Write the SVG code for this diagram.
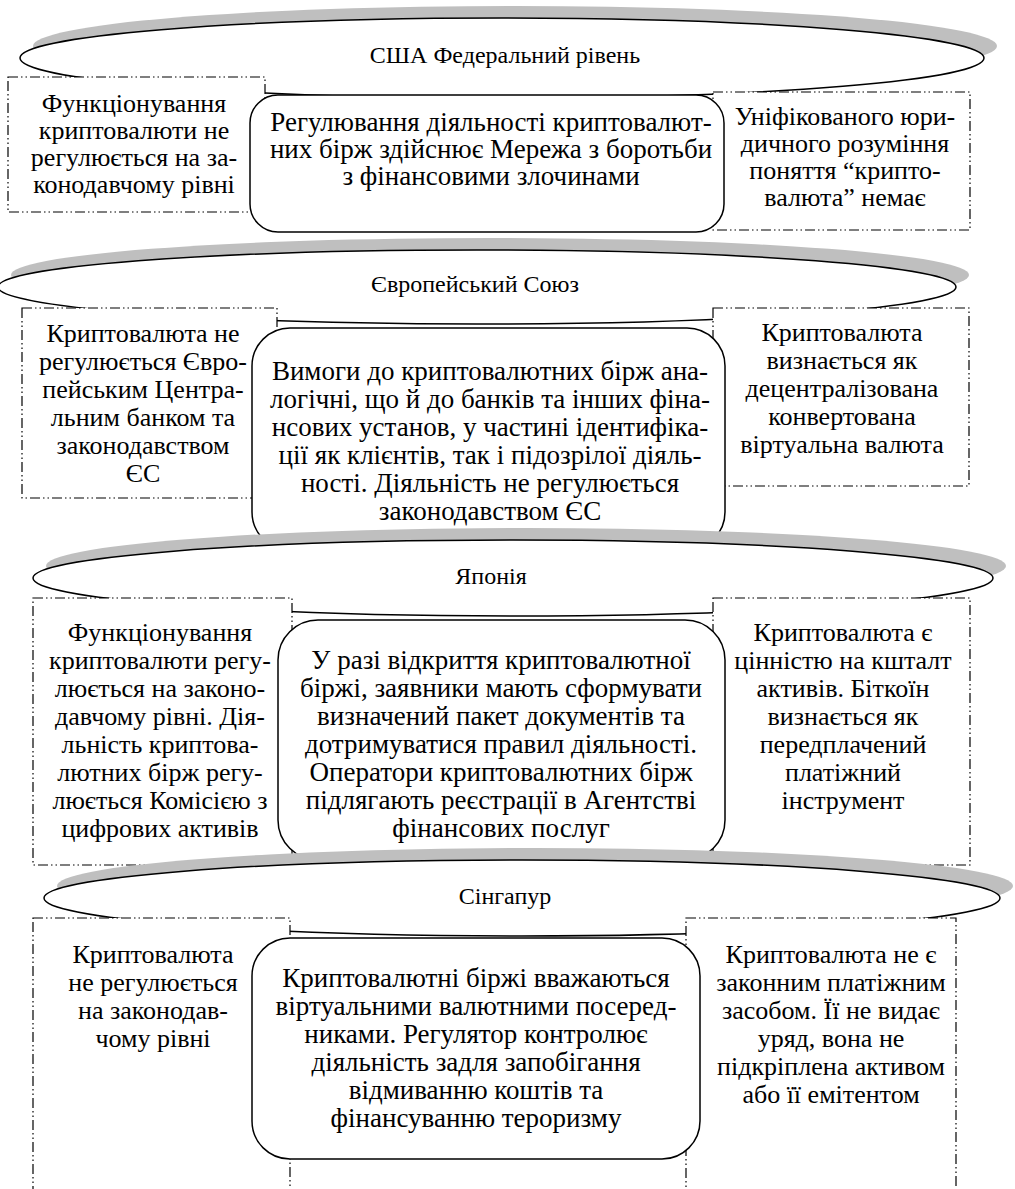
<svg xmlns="http://www.w3.org/2000/svg" width="1015" height="1189" viewBox="0 0 1015 1189">
<defs>
<style>
.bg{fill:#ffffff}
.sh{fill:#bfbfbf;stroke:none}
.el{fill:#ffffff;stroke:#000;stroke-width:1.5}
.dd{fill:#ffffff;stroke:#000;stroke-width:1.2;stroke-dasharray:10 3 1.5 3 1.5 3}
.rr{fill:#ffffff;stroke:#000;stroke-width:1.5}
text{font-family:"Liberation Serif","Times New Roman",serif;font-size:26px;fill:#000;text-anchor:middle}
.ttl{font-size:24px}
.m{font-size:27px}
</style>
</defs>
<rect class="bg" x="0" y="0" width="1015" height="1189"/>

<g id="usa">
<ellipse class="sh" cx="515" cy="46" rx="482" ry="40"/>
<ellipse class="el" cx="502" cy="58" rx="482" ry="40"/>
<text class="ttl" x="505" y="63">США Федеральний рівень</text>
</g>
<g id="usa-left">
<rect class="dd" x="8" y="77" width="257" height="135"/>
<text x="134" y="112">Функціонування</text>
<text x="134" y="139">криптовалюти не</text>
<text x="134" y="166">регулюється на за-</text>
<text x="134" y="193">конодавчому рівні</text>
</g>
<g id="usa-right">
<rect class="dd" x="713" y="92" width="257" height="138"/>
<text x="845" y="125">Уніфікованого юри-</text>
<text x="845" y="152">дичного розуміння</text>
<text x="845" y="179">поняття “крипто-</text>
<text x="845" y="206">валюта” немає</text>
</g>
<g id="usa-mid">
<rect class="rr" x="250" y="95" width="474" height="137" rx="28" ry="28"/>
<text class="m" x="491" y="131">Регулювання діяльності криптовалют-</text>
<text class="m" x="491" y="158">них бірж здійснює Мережа з боротьби</text>
<text class="m" x="491" y="185">з фінансовими злочинами</text>
</g>

<g id="eu">
<ellipse class="sh" cx="490" cy="275" rx="479" ry="37"/>
<ellipse class="el" cx="477" cy="287" rx="479" ry="37"/>
<text class="ttl" x="475" y="292">Європейський Союз</text>
</g>
<g id="eu-left">
<rect class="dd" x="22" y="308" width="255" height="190"/>
<text x="143" y="342">Криптовалюта не</text>
<text x="143" y="370">регулюється Євро-</text>
<text x="143" y="398">пейським Центра-</text>
<text x="143" y="426">льним банком та</text>
<text x="143" y="454">законодавством</text>
<text x="143" y="482">ЄС</text>
</g>
<g id="eu-right">
<rect class="dd" x="713" y="308" width="256" height="178"/>
<text x="842" y="341">Криптовалюта</text>
<text x="842" y="369">визнається як</text>
<text x="842" y="397">децентралізована</text>
<text x="842" y="425">конвертована</text>
<text x="842" y="453">віртуальна валюта</text>
</g>
<g id="eu-mid">
<rect class="rr" x="252" y="328" width="473" height="222" rx="38" ry="38"/>
<text class="m" x="490" y="380">Вимоги до криптовалютних бірж ана-</text>
<text class="m" x="490" y="408">логічні, що й до банків та інших фіна-</text>
<text class="m" x="490" y="436">нсових установ, у частині ідентифіка-</text>
<text class="m" x="490" y="464">ції як клієнтів, так і підозрілої діяль-</text>
<text class="m" x="490" y="492">ності. Діяльність не регулюється</text>
<text class="m" x="490" y="520">законодавством ЄС</text>
</g>

<g id="japan">
<ellipse class="sh" cx="526" cy="566" rx="480" ry="38"/>
<ellipse class="el" cx="513" cy="578" rx="480" ry="38"/>
<text class="ttl" x="491" y="584">Японія</text>
</g>
<g id="japan-left">
<rect class="dd" x="33" y="598" width="259" height="267"/>
<text x="160" y="641">Функціонування</text>
<text x="160" y="669">криптовалюти регу-</text>
<text x="160" y="697">люється на законо-</text>
<text x="160" y="725">давчому рівні. Дія-</text>
<text x="160" y="753">льність криптова-</text>
<text x="160" y="781">лютних бірж регу-</text>
<text x="160" y="809">люється Комісією з</text>
<text x="160" y="837">цифрових активів</text>
</g>
<g id="japan-right">
<rect class="dd" x="713" y="598" width="257" height="267"/>
<text x="843" y="641">Криптовалюта є</text>
<text x="843" y="669">цінністю на кшталт</text>
<text x="843" y="697">активів. Біткоїн</text>
<text x="843" y="725">визнається як</text>
<text x="843" y="753">передплачений</text>
<text x="843" y="781">платіжний</text>
<text x="843" y="809">інструмент</text>
</g>
<g id="japan-mid">
<rect class="rr" x="278" y="620" width="447" height="240" rx="40" ry="40"/>
<text class="m" x="501" y="669">У разі відкриття криптовалютної</text>
<text class="m" x="501" y="697">біржі, заявники мають сформувати</text>
<text class="m" x="501" y="725">визначений пакет документів та</text>
<text class="m" x="501" y="753">дотримуватися правил діяльності.</text>
<text class="m" x="501" y="781">Оператори криптовалютних бірж</text>
<text class="m" x="501" y="809">підлягають реєстрації в Агентстві</text>
<text class="m" x="501" y="837">фінансових послуг</text>
</g>

<g id="singapore">
<ellipse class="sh" cx="535" cy="886" rx="478" ry="38"/>
<ellipse class="el" cx="522" cy="898" rx="478" ry="38"/>
<text class="ttl" x="505" y="904">Сінгапур</text>
</g>
<g id="singapore-left">
<rect class="dd" x="33" y="918" width="257" height="300"/>
<text x="153" y="963">Криптовалюта</text>
<text x="153" y="991">не регулюється</text>
<text x="153" y="1019">на законодав-</text>
<text x="153" y="1047">чому рівні</text>
</g>
<g id="singapore-right">
<rect class="dd" x="686" y="918" width="270" height="300"/>
<text x="831" y="963">Криптовалюта не є</text>
<text x="831" y="991">законним платіжним</text>
<text x="831" y="1019">засобом. Її не видає</text>
<text x="831" y="1047">уряд, вона не</text>
<text x="831" y="1075">підкріплена активом</text>
<text x="831" y="1103">або її емітентом</text>
</g>
<g id="singapore-mid">
<rect class="rr" x="252" y="938" width="448" height="221" rx="38" ry="38"/>
<text class="m" x="476" y="987">Криптовалютні біржі вважаються</text>
<text class="m" x="476" y="1015">віртуальними валютними посеред-</text>
<text class="m" x="476" y="1043">никами. Регулятор контролює</text>
<text class="m" x="476" y="1071">діяльність задля запобігання</text>
<text class="m" x="476" y="1099">відмиванню коштів та</text>
<text class="m" x="476" y="1127">фінансуванню тероризму</text>
</g>
<g id="connectors"></g>
</svg>
